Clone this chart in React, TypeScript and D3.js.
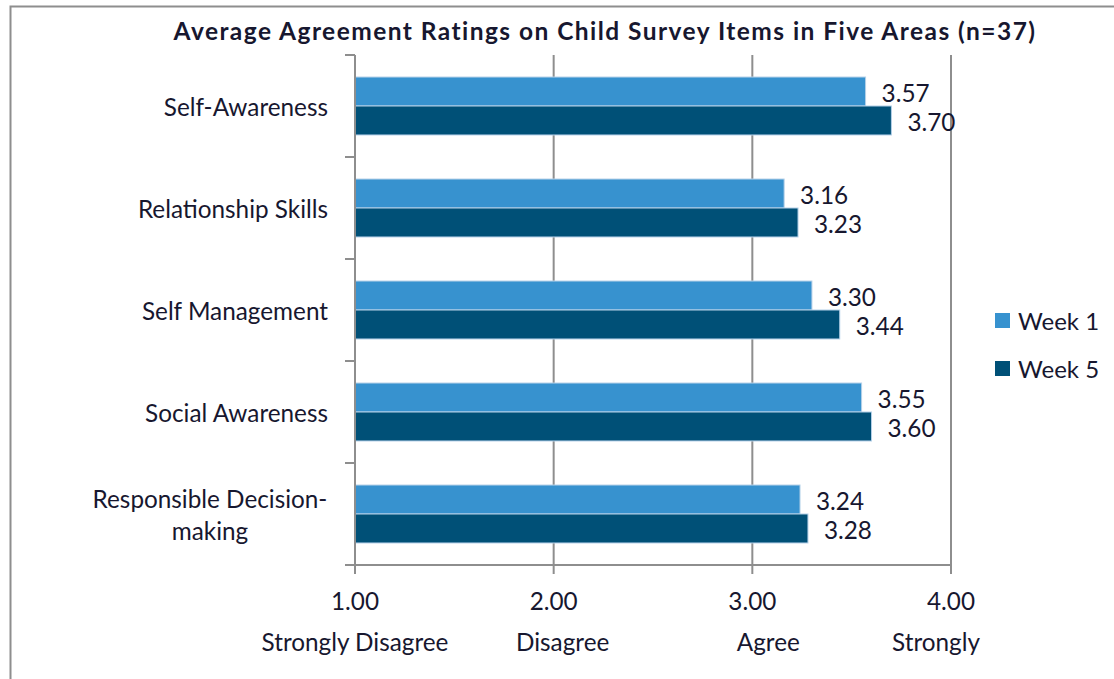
import React from "react";
import * as d3 from "d3";

const categories = [
  "Self-Awareness",
  "Relationship Skills",
  "Self Management",
  "Social Awareness",
  "Responsible Decision-making",
];
const categoryLines = [
  ["Self-Awareness"],
  ["Relationship Skills"],
  ["Self Management"],
  ["Social Awareness"],
  ["Responsible Decision-", "making"],
];
const seriesNames = ["Week 1", "Week 5"];
const week1 = [3.57, 3.16, 3.3, 3.55, 3.24];
const week5 = [3.7, 3.23, 3.44, 3.6, 3.28];
const seriesValues = [week1, week5];
const seriesColors = ["#3792cf", "#005077"];
const tickValues = [1, 2, 3, 4];
const tickLabels = ["1.00", "2.00", "3.00", "4.00"];
const ratingLabels = ["Strongly Disagree", "Disagree", "Agree", "Strongly"];
const ratingOffsets = [0, 9, 16, -15];
const title = "Average Agreement Ratings on Child Survey Items in Five Areas (n=37)";

const W = 1114;
const H = 679;
const FONT = "Lato, 'Open Sans', sans-serif";
const TEXT = "#17172f";
const GRID = "#8e8e8e";

export default function App() {
  const left = 355;
  const right = 951;
  const top = 55;
  const bottom = 565;
  const x = d3.scaleLinear().domain([1, 4]).range([left, right]);
  const y = d3.scaleBand<string>().domain(categories).range([top, bottom]).padding(0);
  const inner = d3
    .scaleBand<string>()
    .domain(seriesNames)
    .range([0, y.bandwidth()])
    .paddingInner(0)
    .paddingOuter(0.76);

  const fs = 24.3;

  return (
    <svg
      width={W}
      height={H}
      style={{ position: "absolute", left: 0, top: 0, display: "block" }}
      fontFamily={FONT}
    >
      <rect x={0} y={0} width={W} height={H} fill="#ffffff" />
      <rect x={10.5} y={6.5} width={W + 20} height={H + 20} fill="none" stroke={GRID} strokeWidth={2} />
      <text
        x={605}
        y={30}
        textAnchor="middle"
        dominantBaseline="central"
        fontSize={24.5}
        fontWeight={700}
        fill={TEXT}
        letterSpacing={1.45}
      >
        {title}
      </text>

      {/* vertical gridlines */}
      {tickValues.slice(1).map((t) => (
        <line key={"g" + t} x1={x(t)} x2={x(t)} y1={top} y2={bottom} stroke={GRID} strokeWidth={2} />
      ))}

      {/* bars */}
      {categories.map((c, ci) =>
        seriesNames.map((s, si) => {
          const v = seriesValues[si][ci];
          const by = (y(c) as number) + (inner(s) as number);
          const bh = inner.bandwidth();
          return (
            <g key={c + s}>
              <rect
                x={x(1)}
                y={by}
                width={x(v) - x(1)}
                height={bh}
                fill={seriesColors[si]}
                stroke="#b4d0e8"
                strokeWidth={1}
              />
              <text
                x={x(v) + 16}
                y={by + bh / 2 + 1}
                dominantBaseline="central"
                fontSize={fs}
                fill={TEXT}
              >
                {v.toFixed(2)}
              </text>
            </g>
          );
        })
      )}

      {/* y axis */}
      <line x1={left} x2={left} y1={top} y2={bottom} stroke={GRID} strokeWidth={2} />
      {categories.map((c) => (
        <line key={"yt" + c} x1={left - 10} x2={left} y1={y(c) as number} y2={y(c) as number} stroke={GRID} strokeWidth={2} />
      ))}
      <line x1={left - 10} x2={left} y1={bottom} y2={bottom} stroke={GRID} strokeWidth={2} />

      {/* category labels */}
      {categories.map((c, ci) => {
        const lines = categoryLines[ci];
        const cy = (y(c) as number) + y.bandwidth() / 2;
        if (lines.length === 1) {
          return (
            <text key={"cl" + c} x={328} y={cy} textAnchor="end" dominantBaseline="central" fontSize={fs} fill={TEXT}>
              {lines[0]}
            </text>
          );
        }
        const lh = 32;
        return (
          <g key={"cl" + c}>
            {lines.map((l, li) => (
              <text
                key={l}
                x={210}
                y={cy + (li - (lines.length - 1) / 2) * lh}
                textAnchor="middle"
                dominantBaseline="central"
                fontSize={fs}
                fill={TEXT}
              >
                {l}
              </text>
            ))}
          </g>
        );
      })}

      {/* x axis */}
      <line x1={left - 10} x2={right} y1={bottom} y2={bottom} stroke={GRID} strokeWidth={2} />
      {tickValues.map((t, i) => (
        <g key={"xt" + t}>
          <line x1={x(t)} x2={x(t)} y1={bottom} y2={bottom + 9} stroke={GRID} strokeWidth={2} />
          <text x={x(t)} y={600} textAnchor="middle" dominantBaseline="central" fontSize={fs} fill={TEXT}>
            {tickLabels[i]}
          </text>
          <text x={x(t) + ratingOffsets[i]} y={641} textAnchor="middle" dominantBaseline="central" fontSize={fs} fill={TEXT}>
            {ratingLabels[i]}
          </text>
        </g>
      ))}

      {/* legend */}
      {seriesNames.map((s, si) => (
        <g key={"lg" + s} transform={`translate(995, ${313 + si * 48})`}>
          <rect x={0} y={0} width={15} height={15} fill={seriesColors[si]} />
          <text x={23} y={7.5} dominantBaseline="central" fontSize={24} fill={TEXT}>
            {s}
          </text>
        </g>
      ))}
    </svg>
  );
}
